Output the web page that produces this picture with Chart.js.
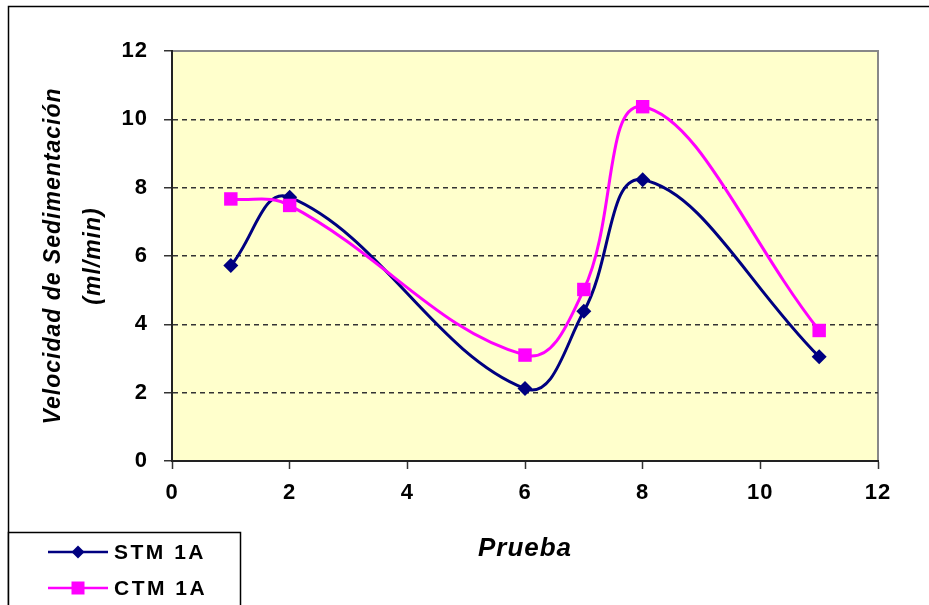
<!DOCTYPE html>
<html>
<head>
<meta charset="utf-8">
<script src="https://cdn.jsdelivr.net/npm/chart.js@4"></script>
<style>
  body { margin: 0; background: #fff; }
  #wrap { width: 929px; height: 605px; }
</style>
</head>
<body>
<div id="wrap"><canvas id="chart" width="929" height="605"></canvas></div>
<script>
// Velocidad de sedimentación por prueba
const pruebas = [1, 2, 6, 7, 8, 11];
const stm1A = [5.72, 7.72, 2.12, 4.38, 8.23, 3.05];
const ctm1A = [7.67, 7.48, 3.10, 5.02, 10.37, 3.82];
const xTicks = [0, 2, 4, 6, 8, 10, 12];
const yTicks = [0, 2, 4, 6, 8, 10, 12];

const toPoints = (xs, ys) => xs.map((x, i) => ({ x: x, y: ys[i] }));
const FONT = '"Liberation Sans", Arial, sans-serif';

// yellow plot area, grey frame on top/right, outer frame of the sheet
const frame = {
  id: 'frame',
  beforeDraw(chart) {
    const { ctx, chartArea: a } = chart;
    ctx.save();
    ctx.fillStyle = '#FFFFCC';
    ctx.fillRect(a.left, a.top, a.right - a.left, a.bottom - a.top);
    ctx.strokeStyle = '#888';
    ctx.lineWidth = 2;
    ctx.beginPath();
    ctx.moveTo(a.left, a.top);
    ctx.lineTo(a.right, a.top);
    ctx.lineTo(a.right, a.bottom);
    ctx.stroke();
    ctx.strokeStyle = '#000';
    ctx.lineWidth = 1.5;
    ctx.beginPath();
    ctx.moveTo(929, 6.5);
    ctx.lineTo(8.5, 6.5);
    ctx.lineTo(8.5, 605);
    ctx.stroke();
    ctx.restore();
    ctx.letterSpacing = '1px';
  }
};

// boxed legend in the lower left corner
const boxLegend = {
  id: 'boxLegend',
  afterDraw(chart) {
    const ctx = chart.ctx;
    ctx.save();
    ctx.fillStyle = '#fff';
    ctx.fillRect(8.5, 532.5, 232, 80);
    ctx.strokeStyle = '#000';
    ctx.lineWidth = 1.5;
    ctx.strokeRect(8.5, 532.5, 232, 80);
    chart.data.datasets.forEach((ds, i) => {
      const y = 552 + i * 36;
      ctx.strokeStyle = ds.borderColor;
      ctx.lineWidth = 2.5;
      ctx.beginPath();
      ctx.moveTo(48, y);
      ctx.lineTo(108, y);
      ctx.stroke();
      ctx.fillStyle = ds.backgroundColor;
      ctx.beginPath();
      if (ds.pointStyle === 'rectRot') {
        ctx.moveTo(78, y - 6.5);
        ctx.lineTo(84.5, y);
        ctx.lineTo(78, y + 6.5);
        ctx.lineTo(71.5, y);
        ctx.closePath();
      } else {
        ctx.rect(71.5, y - 6.5, 13, 13);
      }
      ctx.fill();
      ctx.fillStyle = '#000';
      ctx.font = 'bold 21px ' + FONT;
      ctx.letterSpacing = '2.5px';
      ctx.textBaseline = 'middle';
      ctx.textAlign = 'left';
      ctx.fillText(ds.label, 114, y + 1);
    });
    ctx.restore();
  }
};

new Chart(document.getElementById('chart'), {
  type: 'line',
  data: {
    datasets: [
      {
        label: 'STM 1A',
        data: toPoints(pruebas, stm1A),
        borderColor: '#000080',
        backgroundColor: '#000080',
        borderWidth: 3,
        pointStyle: 'rectRot',
        pointRadius: 7.5,
        pointBorderWidth: 0,
        tension: 0.4,
        order: 2
      },
      {
        label: 'CTM 1A',
        data: toPoints(pruebas, ctm1A),
        borderColor: '#FF00FF',
        backgroundColor: '#FF00FF',
        borderWidth: 3,
        pointStyle: 'rect',
        pointRadius: 9.5,
        pointBorderWidth: 0,
        tension: 0.4,
        order: 1
      }
    ]
  },
  options: {
    responsive: false,
    animation: false,
    layout: { padding: { top: 51, right: 51, left: 0, bottom: 0 } },
    plugins: { legend: { display: false }, tooltip: { enabled: false } },
    scales: {
      x: {
        type: 'linear',
        min: 0,
        max: 12,
        afterFit(scale) { scale.height = 144; },
        afterBuildTicks(scale) { scale.ticks = xTicks.map(v => ({ value: v })); },
        grid: { drawOnChartArea: false, tickLength: 8, tickColor: '#333', tickWidth: 1.5 },
        border: { color: '#222', width: 2 },
        ticks: {
          padding: 11,
          color: '#000',
          font: { family: FONT, size: 22, weight: 'bold' }
        },
        title: {
          display: true,
          text: 'Prueba',
          color: '#000',
          padding: { top: 0, bottom: 41 },
          font: { family: FONT, size: 26, weight: 'bold', style: 'italic' }
        }
      },
      y: {
        min: 0,
        max: 12,
        afterFit(scale) { scale.width = 172; },
        afterBuildTicks(scale) { scale.ticks = yTicks.map(v => ({ value: v })); },
        grid: {
          color: c => (c.tick && (c.tick.value === 0 || c.tick.value === 12)) ? 'rgba(0,0,0,0)' : '#333',
          lineWidth: 1.5,
          tickLength: 8,
          tickColor: '#333',
          tickWidth: 1.5
        },
        border: { color: '#222', width: 2, dash: [5, 4] },
        ticks: {
          padding: 16,
          color: '#000',
          font: { family: FONT, size: 22, weight: 'bold' }
        },
        title: {
          display: true,
          text: ['Velocidad de Sedimentación', '(ml/min)'],
          color: '#000',
          padding: { top: 34, bottom: 0 },
          font: { family: FONT, size: 23, weight: 'bold', style: 'italic', lineHeight: 1.74 }
        }
      }
    }
  },
  plugins: [frame, boxLegend]
});
</script>
</body>
</html>
